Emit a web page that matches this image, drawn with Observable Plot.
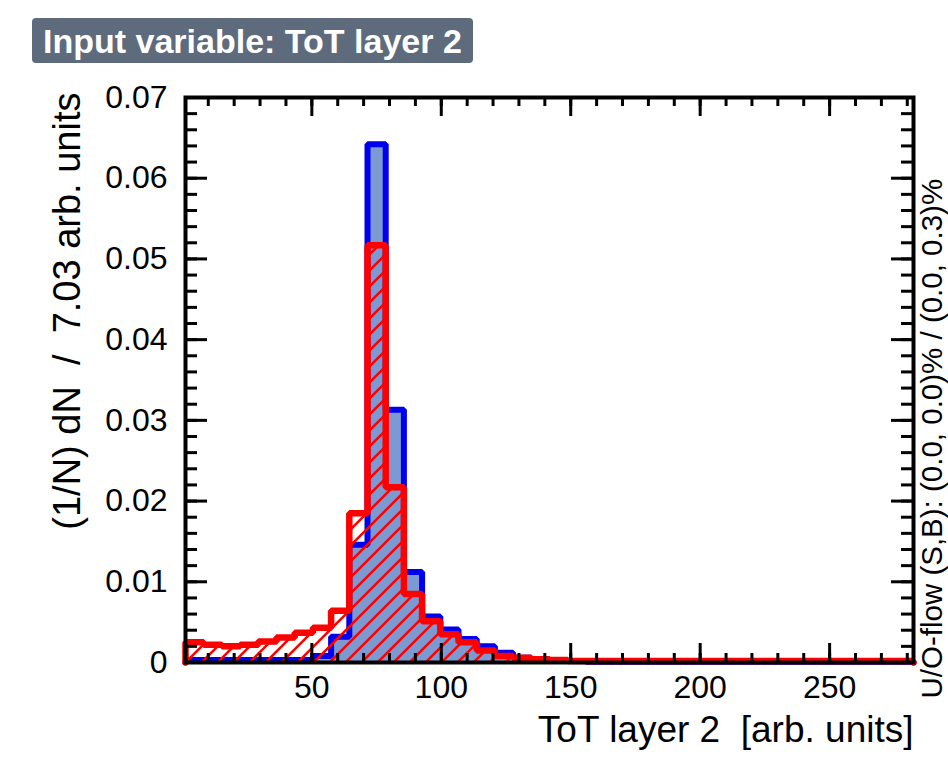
<!DOCTYPE html>
<html>
<head>
<meta charset="utf-8">
<script src="https://cdn.jsdelivr.net/npm/d3@7"></script>
<script src="https://cdn.jsdelivr.net/npm/@observablehq/plot@0.6"></script>
<style>
  body { margin: 0; background: white; }
  #wrap { position: relative; width: 948px; height: 764px; overflow: hidden; }
  #title {
    position: absolute; left: 32px; top: 18px; height: 45px; padding: 0 11px 0 11px;
    background: #5d6b7d; color: white; border-radius: 4px;
    font: bold 34px "Liberation Sans", Arial, sans-serif; line-height: 46px; white-space: nowrap;
  }
</style>
</head>
<body>
<div id="wrap"><div id="title">Input variable: ToT layer 2</div></div>
<script>
// ---- data ----
const titleText = "Input variable: ToT layer 2";
const xLabel = "ToT layer 2\u00a0\u00a0[arb. units]";
const yLabel = "(1/N) dN\u00a0\u00a0/\u00a0\u00a07.03 arb. units";
const flowText = "U/O-flow (S,B): (0.0, 0.0)% / (0.0, 0.3)%";
const xMin = 1.2;
const binWidth = 7.03;
// signal (blue) bin contents, 40 bins
const signal = [
  0.0003, 0.0003, 0.0003, 0.0003, 0.0003, 0.0003, 0.0003, 0.0008, 0.0032, 0.0146,
  0.0642, 0.0313, 0.0112, 0.0057, 0.0041, 0.0029, 0.0020, 0.0012, 0.0006, 0.0004,
  0.0003, 0.0002, 0.0001, 0.0001, 0.0001, 0.0001, 0.0001, 0.0001, 0.0001, 0.0001,
  0.0001, 0.0001, 0.0001, 0.0001, 0.0001, 0.0001, 0.0001, 0.0001, 0.0001, 0.0001
];
// background (red) bin contents, 40 bins
const background = [
  0.0025, 0.0022, 0.0020, 0.0022, 0.0026, 0.0031, 0.0037, 0.0043, 0.0064, 0.0185,
  0.0517, 0.0217, 0.0085, 0.0051, 0.0035, 0.0025, 0.0015, 0.0008, 0.0006, 0.0004,
  0.0003, 0.0002, 0.0002, 0.0002, 0.0002, 0.0002, 0.0002, 0.0002, 0.0002, 0.0002,
  0.0002, 0.0002, 0.0002, 0.0002, 0.0002, 0.0002, 0.0002, 0.0002, 0.0002, 0.0002
];
const xTickLabels = [50, 100, 150, 200, 250];
const xMinorTicks = [10,20,30,40,50,60,70,80,90,100,110,120,130,140,150,160,170,180,190,200,210,220,230,240,250,260,270,280];
const yTickLabels = [0, 0.01, 0.02, 0.03, 0.04, 0.05, 0.06, 0.07];
const yMinorTicks = d3.range(0, 0.0701, 0.002);

// ---- layout ----
const W = 948, H = 764, mL = 185, mR = 35, mT = 97, mB = 102;
const innerW = W - mL - mR, innerH = H - mT - mB;
const nBins = signal.length;
const xMax = xMin + nBins * binWidth;

function stepData(vals) {
  const pts = [{x: xMin, v: 0}];
  vals.forEach((v, k) => pts.push({x: xMin + k * binWidth, v}));
  pts.push({x: xMax, v: vals[vals.length - 1]});
  pts.push({x: xMax, v: 0});
  return pts;
}
const sigPts = stepData(signal);
const bkgPts = stepData(background);

const font = "'Liberation Sans', Arial, Helvetica, sans-serif";

const chart = Plot.plot({
  width: W, height: H,
  marginLeft: mL, marginRight: mR, marginTop: mT, marginBottom: mB,
  style: {fontFamily: font, background: "white", color: "black"},
  x: {domain: [xMin, xMax], axis: null},
  y: {domain: [0, 0.07], axis: null},
  marks: [
    Plot.areaY(sigPts, {x: "x", y: "v", curve: "step-after", fill: "#7d99d1"}),
    Plot.line(sigPts, {x: "x", y: "v", curve: "step-after", stroke: "#0000ee", strokeWidth: 6, strokeLinejoin: "miter"}),
    Plot.areaY(bkgPts, {x: "x", y: "v", curve: "step-after", fill: "url(#hatch)"}),
    Plot.line(bkgPts, {x: "x", y: "v", curve: "step-after", stroke: "#ff0000", strokeWidth: 6.5, strokeLinejoin: "miter"}),
    Plot.frame({stroke: "black", strokeWidth: 4}),
    // inward ticks: bottom & top
    Plot.tickX(xMinorTicks, {x: d => d, insetTop: innerH - 9, stroke: "black", strokeWidth: 3}),
    Plot.tickX(xTickLabels, {x: d => d, insetTop: innerH - 19, stroke: "black", strokeWidth: 3}),
    Plot.tickX(xMinorTicks, {x: d => d, insetBottom: innerH - 9, stroke: "black", strokeWidth: 3}),
    Plot.tickX(xTickLabels, {x: d => d, insetBottom: innerH - 19, stroke: "black", strokeWidth: 3}),
    // inward ticks: left & right
    Plot.tickY(yMinorTicks, {y: d => d, insetRight: innerW - 12, stroke: "black", strokeWidth: 3}),
    Plot.tickY(yTickLabels, {y: d => d, insetRight: innerW - 22, stroke: "black", strokeWidth: 3}),
    Plot.tickY(yMinorTicks, {y: d => d, insetLeft: innerW - 12, stroke: "black", strokeWidth: 3}),
    Plot.tickY(yTickLabels, {y: d => d, insetLeft: innerW - 22, stroke: "black", strokeWidth: 3}),
    // tick labels
    Plot.axisX(xTickLabels, {anchor: "bottom", tickSize: 0, tickPadding: 13, fontSize: 32, label: null}),
    Plot.axisY(yTickLabels, {anchor: "left", tickSize: 0, tickPadding: 18, fontSize: 32, label: null,
      tickFormat: d => d === 0 ? "0" : d.toFixed(2)}),
    // axis titles
    Plot.text([xLabel], {text: d => d, frameAnchor: "bottom-right", dy: 79, textAnchor: "end", fontSize: 37, fill: "black"}),
    Plot.text([yLabel], {text: d => d, frameAnchor: "top-left", dx: 53 - mL, dy: -5, rotate: -90, textAnchor: "end", fontSize: 38, fill: "black"}),
    Plot.text([flowText], {text: d => d, frameAnchor: "bottom-right", dx: 28.5, dy: 36, rotate: -90, textAnchor: "start", fontSize: 29.5, fill: "black"})
  ]
});

// hatch pattern for background histogram
const defs = d3.select(chart).insert("defs", ":first-child");
const pat = defs.append("pattern").attr("id", "hatch").attr("patternUnits", "userSpaceOnUse")
  .attr("width", 16).attr("height", 16);
pat.append("path").attr("d", "M-4,4L4,-4M0,16L16,0M12,20L20,12")
  .attr("stroke", "#ff0000").attr("stroke-width", 2.5).attr("fill", "none");

const wrap = document.getElementById("wrap");
wrap.insertBefore(chart, wrap.firstChild);
chart.style.position = "absolute";
chart.style.left = "0px";
chart.style.top = "0px";
document.getElementById("title").textContent = titleText;
</script>
</body>
</html>
